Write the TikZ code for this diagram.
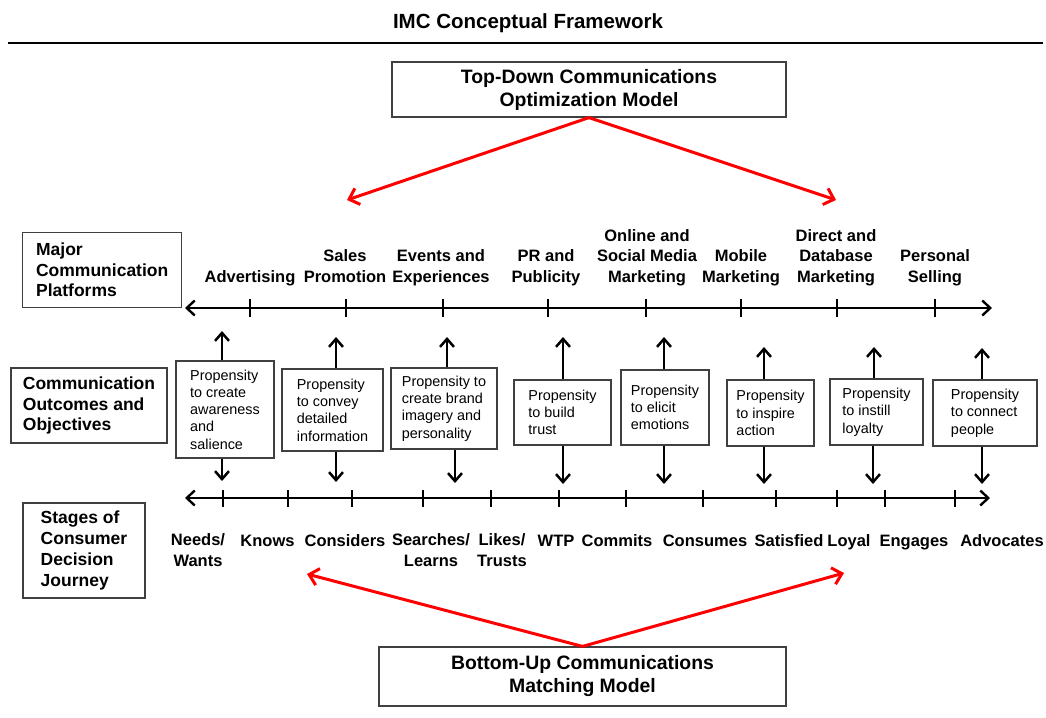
\documentclass[tikz,border=0pt]{standalone}
\usepackage{fontspec}
\setmainfont{Liberation Sans}
\usetikzlibrary{arrows.meta}

\newcommand{\fs}[2]{\fontsize{#1}{#2}\selectfont}

\begin{document}
\begin{tikzpicture}[x=1pt,y=-1pt]
\tikzstyle{model}=[rectangle,draw=black!75,line width=1.2pt,align=center,font=\fs{19.4}{23}\bfseries]
\tikzstyle{lbl}=[rectangle,draw=black!75,line width=1.2pt,align=left,inner sep=0pt,font=\fs{17.5}{20.7}\bfseries]
\tikzstyle{obj}=[rectangle,draw=black!75,line width=1.1pt,fill=white,align=left,inner sep=0pt,font=\fs{14.4}{17.3}]
\tikzstyle{plat}=[anchor=base,align=center,inner sep=0pt,font=\fs{16.5}{20.5}\bfseries]
\tikzstyle{axis}=[line width=2.4pt,{Straight Barb[length=8pt,width=15pt]}-{Straight Barb[length=8pt,width=15pt]}]
\tikzstyle{tick}=[line width=2.2pt]
\tikzstyle{arr}=[line width=2.5pt,-{Straight Barb[length=8pt,width=14pt]}]
\tikzstyle{redarr}=[red,line width=3pt,-{Straight Barb[length=9pt,width=17pt]}]
\useasboundingbox (0,0) rectangle (1046,717);
% heading
\node (title) [anchor=base,inner sep=0pt,font=\fs{20.5}{24}\bfseries] at (528,29) {IMC Conceptual Framework};
\coordinate (rl) at (8,43);
\coordinate (rr) at (1043,43);
\draw [line width=2pt] (rl) -- (rr);
% top-down model
\node (top) [model,minimum width=394,minimum height=55] at (589,89.5) {Top-Down Communications\\Optimization Model};
\coordinate (tl) at (347,200);
\coordinate (tr) at (836,200);
\draw [redarr] (top.south) -- (tl);
\draw [redarr] (top.south) -- (tr);
% row labels
\node (lab1) [lbl,minimum width=159,minimum height=74.6] at (102.2,270) {Major\\Communication\\Platforms};
\node (lab2) [lbl,minimum width=156,minimum height=75] at (89,405.5) {Communication\\Outcomes and\\Objectives};
\node (lab3) [lbl,minimum width=122,minimum height=95] at (84,550.5) {Stages of\\Consumer\\Decision\\Journey};
% platforms
\coordinate (pa) at (185,308);
\coordinate (pb) at (992,308);
\draw [axis] (pa) -- (pb);
\foreach \x in {250,346,443,548,646,741,837,935}
  \draw [tick] (\x,299) -- (\x,317);
\node (p1) [plat] at (250,282) {Advertising};
\node (p2) [plat] at (345,282) {Sales\\Promotion};
\node (p3) [plat] at (441,282) {Events and\\Experiences};
\node (p4) [plat] at (546,282) {PR and\\Publicity};
\node (p5) [plat] at (647,282) {Online and\\Social Media\\Marketing};
\node (p6) [plat] at (741,282) {Mobile\\Marketing};
\node (p7) [plat] at (836,282) {Direct and\\Database\\Marketing};
\node (p8) [plat] at (935,282) {Personal\\Selling};
% outcomes and objectives
\node (o1) [obj,minimum width=98,minimum height=97] at (225,409.5) {Propensity\\to create\\awareness\\and\\salience};
\node (o2) [obj,minimum width=101,minimum height=82] at (332.5,410) {Propensity\\to convey\\detailed\\information};
\node (o3) [obj,minimum width=106,minimum height=81] at (444,408.5) {Propensity to\\create brand\\imagery and\\personality};
\node (o4) [obj,minimum width=97,minimum height=65] at (562.5,412.5) {Propensity\\to build\\trust};
\node (o5) [obj,minimum width=88,minimum height=75] at (665,407.5) {Propensity\\to elicit\\emotions};
\node (o6) [obj,minimum width=87,minimum height=66] at (770.5,413) {Propensity\\to inspire\\action};
\node (o7) [obj,minimum width=93,minimum height=66] at (876.5,412) {Propensity\\to instill\\loyalty};
\node (o8) [obj,minimum width=104,minimum height=66] at (985,413) {Propensity\\to connect\\people};
\foreach \i/\ux/\uy/\dx/\dy in {1/222/331/222/481,2/336/337/336/482,3/447/337/455/483,4/563/337/563/484,5/664/337/664/484,6/764/347/764/484,7/874/347/873/484,8/982/348/982/484} {
  \coordinate (u\i) at (\ux,\uy);
  \coordinate (d\i) at (\dx,\dy);
  \draw [arr] (o\i.north -| u\i) -- (u\i);
  \draw [arr] (o\i.south -| d\i) -- (d\i);
}
% decision journey
\coordinate (sa) at (185,498);
\coordinate (sb) at (990,498);
\draw [axis] (sa) -- (sb);
\foreach \x in {223,288,352,423,491,559,626,703,776,837,885,955}
  \draw [tick] (\x,490) -- (\x,507);
\node (s1) [plat] at (198,566) {Needs/\\Wants};
\node (s2) [plat] at (267.5,546) {Knows};
\node (s3) [plat] at (345,546) {Considers};
\node (s4) [plat] at (431,566) {Searches/\\Learns};
\node (s5) [plat] at (502,566) {Likes/\\Trusts};
\node (s6) [plat] at (556,546) {WTP};
\node (s7) [plat] at (617,546) {Commits};
\node (s8) [plat] at (705,546) {Consumes};
\node (s9) [plat] at (789,546) {Satisfied};
\node (s10) [plat] at (849,546) {Loyal};
\node (s11) [plat] at (914,546) {Engages};
\node (s12) [plat] at (1002,546) {Advocates};
% bottom-up model
\node (bot) [model,minimum width=407,minimum height=59] at (582.5,676.5) {Bottom-Up Communications\\Matching Model};
\coordinate (bl) at (307,574);
\coordinate (br) at (844,573);
\draw [redarr] (bot.north) -- (bl);
\draw [redarr] (bot.north) -- (br);
\end{tikzpicture}
\end{document}
